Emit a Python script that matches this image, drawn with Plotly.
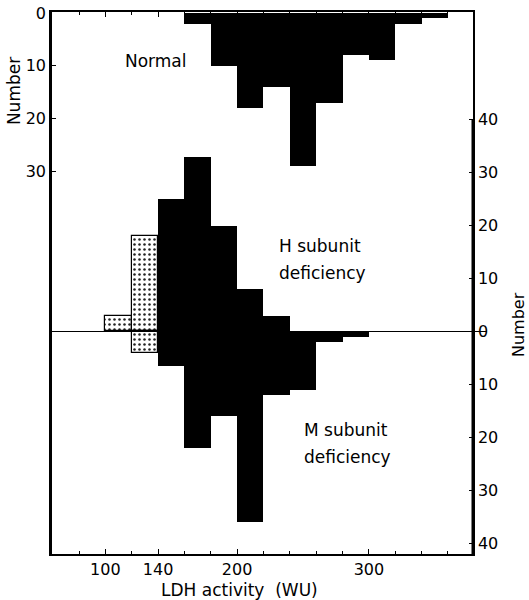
import plotly.graph_objects as go

# ---- data (bin start, LDH activity in WU; bin width 20) ----
normal_bins = [160, 180, 200, 220, 240, 260, 280, 300, 320, 340]
normal_counts = [2, 10, 18, 14, 29, 17, 8, 9, 2, 1]

h_dot_bins = [100, 120]
h_dot_counts = [3, 18]
h_bins = [140, 160, 180, 200, 220, 240, 260, 280]
h_counts = [25, 33, 20, 8, 3, 0, 0, 0]

m_dot_bins = [120]
m_dot_counts = [4]
m_bins = [140, 160, 180, 200, 220, 240, 260, 280]
m_counts = [6.5, 22, 16, 36, 12, 11, 2, 1]

x_ticks = [100, 140, 200, 300]
left_ticks = [0, 10, 20, 30]
right_ticks = [-40, -30, -20, -10, 0, 10, 20, 30, 40]

BW = 20
FONT = "DejaVu Sans"

def centers(b):
    return [v + BW / 2 for v in b]

fig = go.Figure()

# Normal (left axis, reversed, bars hang from top)
fig.add_trace(go.Bar(x=centers(normal_bins), y=normal_counts, width=BW,
                     marker=dict(color="black", line=dict(width=0)),
                     yaxis="y", showlegend=False))

# H subunit deficiency (up, right axis)
fig.add_trace(go.Bar(x=centers(h_bins), y=h_counts, width=BW,
                     marker=dict(color="black", line=dict(width=0)),
                     yaxis="y2", showlegend=False))
# M subunit deficiency (down, right axis)
fig.add_trace(go.Bar(x=centers(m_bins), y=[-v for v in m_counts], width=BW,
                     marker=dict(color="black", line=dict(width=0)),
                     yaxis="y2", showlegend=False))

dot_marker = dict(color="white",
                  line=dict(color="black", width=1.2),
                  pattern=dict(shape=".", fgcolor="#222222", bgcolor="white",
                               size=5, solidity=0.2))
fig.add_trace(go.Bar(x=centers(h_dot_bins), y=h_dot_counts, width=BW,
                     marker=dot_marker, yaxis="y2", showlegend=False))
fig.add_trace(go.Bar(x=centers(m_dot_bins), y=[-v for v in m_dot_counts], width=BW,
                     marker=dot_marker, yaxis="y2", showlegend=False))

tickfont = dict(family=FONT, size=16, color="black")

fig.update_layout(
    template="none",
    width=529, height=600,
    margin=dict(l=52, r=56, t=12, b=46, autoexpand=False),
    paper_bgcolor="white", plot_bgcolor="white",
    barmode="overlay", bargap=0,
    font=dict(family=FONT, size=16, color="black"),
    xaxis=dict(range=[59.5, 379], tickvals=x_ticks,
               ticktext=[str(v) for v in x_ticks], automargin=False,
               ticks="inside", ticklen=5, tickwidth=1.2, tickcolor="black",
               showline=True, linewidth=2, linecolor="black", mirror="ticks",
               minor=dict(tickmode="linear", tick0=0, dtick=20, ticks="inside",
                          ticklen=3, tickwidth=1, tickcolor="black"),
               showgrid=False, zeroline=False, tickfont=tickfont),
    yaxis=dict(range=[102.7, -0.19], tickvals=left_ticks, automargin=False,
               ticks="inside", ticklen=4, tickwidth=1.2, tickcolor="black",
               showline=True, linewidth=2.5, linecolor="black",
               showgrid=False, zeroline=False, tickfont=tickfont),
    yaxis2=dict(range=[-42.0, 60.3], overlaying="y", side="right", automargin=False,
                tickvals=right_ticks, ticktext=[str(abs(v)) for v in right_ticks],
                ticks="inside", ticklen=4, tickwidth=1.2, tickcolor="black",
                showline=True, linewidth=1.5, linecolor="black",
                showgrid=False, zeroline=False, tickfont=tickfont),
)

# zero baseline for H/M panel
fig.add_shape(type="line", xref="paper", yref="y2", x0=0, x1=1.033, y0=0, y1=0,
              line=dict(color="black", width=1.2))
# thick right axis segment
fig.add_shape(type="line", xref="paper", yref="y2", x0=1, x1=1, y0=40, y1=-42.0,
              line=dict(color="black", width=3))

ann_font = dict(family=FONT, size=17, color="black")
texts = [
    ("Normal", 0.1686, 0.9096),
    ("H subunit", 0.5344, 0.5683),
    ("deficiency", 0.5344, 0.5185),
    ("M subunit", 0.5938, 0.2288),
    ("deficiency", 0.5938, 0.179),
]
for t, x, y in texts:
    fig.add_annotation(text=t, x=x, y=y, xref="paper", yref="paper",
                       xanchor="left", yanchor="middle", showarrow=False,
                       font=ann_font)

fig.add_annotation(text="Number", x=-0.0903, y=0.854, xref="paper", yref="paper",
                   textangle=-90, showarrow=False, xanchor="center", yanchor="middle",
                   font=ann_font)
fig.add_annotation(text="Number", x=1.1069, y=0.4225, xref="paper", yref="paper",
                   textangle=-90, showarrow=False, xanchor="center", yanchor="middle",
                   font=dict(family=FONT, size=16, color="black"))
fig.add_annotation(text="LDH activity  (WU)", x=0.4454, y=-0.0664,
                   xref="paper", yref="paper", showarrow=False,
                   xanchor="center", yanchor="middle", font=ann_font)

fig.write_html("out.html")
